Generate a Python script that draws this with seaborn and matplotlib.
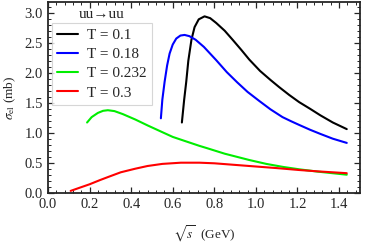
import seaborn as sns
import pandas as pd
import matplotlib.pyplot as plt
from matplotlib.ticker import MultipleLocator

# T = 0.1
x_t01 = [0.644, 0.655, 0.665, 0.675, 0.69, 0.705, 0.725, 0.753, 0.78, 0.809, 0.85, 0.888,
         0.93, 0.968, 1.02, 1.07, 1.112, 1.16, 1.208, 1.26, 1.31, 1.37, 1.437]
y_t01 = [1.17, 1.55, 1.85, 2.20, 2.55, 2.76, 2.89, 2.94, 2.91, 2.83, 2.70, 2.55,
         2.38, 2.22, 2.03, 1.88, 1.76, 1.63, 1.51, 1.40, 1.29, 1.17, 1.06]

# T = 0.18
x_t018 = [0.543, 0.55, 0.561, 0.573, 0.585, 0.60, 0.617, 0.637, 0.657, 0.68, 0.71, 0.75,
          0.809, 0.86, 0.91, 0.96, 1.016, 1.07, 1.128, 1.17, 1.208, 1.26, 1.31, 1.37, 1.437]
y_t018 = [1.24, 1.55, 1.85, 2.12, 2.32, 2.47, 2.57, 2.62, 2.63, 2.61, 2.55, 2.43,
          2.21, 2.01, 1.84, 1.68, 1.53, 1.39, 1.26, 1.19, 1.13, 1.05, 0.98, 0.90, 0.83]

# T = 0.232
x_t0232 = [0.188, 0.21, 0.24, 0.265, 0.288, 0.32, 0.36, 0.42, 0.48, 0.543, 0.60, 0.66,
           0.729, 0.767, 0.85, 0.968, 1.05, 1.13, 1.208, 1.30, 1.437]
y_t0232 = [1.17, 1.26, 1.33, 1.365, 1.375, 1.36, 1.31, 1.22, 1.12, 1.02, 0.93, 0.86,
           0.78, 0.74, 0.65, 0.545, 0.48, 0.43, 0.39, 0.35, 0.30]

# T = 0.3
x_t03 = [0.109, 0.15, 0.20, 0.25, 0.288, 0.35, 0.42, 0.479, 0.55, 0.639, 0.729, 0.80,
         0.968, 1.10, 1.208, 1.30, 1.437]
y_t03 = [0.03, 0.08, 0.14, 0.21, 0.26, 0.34, 0.40, 0.445, 0.48, 0.50, 0.50, 0.49,
         0.445, 0.41, 0.378, 0.355, 0.325]

labels = ['T = 0.1', 'T = 0.18', 'T = 0.232', 'T = 0.3']
colors = ['black', '#0000ff', '#00ee00', '#ff0000']

frames = []
for lab, xs, ys in zip(labels, [x_t01, x_t018, x_t0232, x_t03], [y_t01, y_t018, y_t0232, y_t03]):
    frames.append(pd.DataFrame({'x': xs, 'y': ys, 'T': lab}))
df = pd.concat(frames, ignore_index=True)

sns.set_style("ticks")
plt.rcParams['font.family'] = ['Liberation Serif', 'DejaVu Serif']
plt.rcParams['mathtext.fontset'] = 'stix'

fig = plt.figure(figsize=(3.92, 2.44), dpi=100)
ax = fig.add_axes([0.1224, 0.2103, 0.7956, 0.7817])

sns.lineplot(data=df, x='x', y='y', hue='T', palette=colors, sort=False,
             estimator=None, linewidth=1.5, ax=ax)

ax.set_xlim(0, 1.5)
ax.set_ylim(0, 3.18)
ax.xaxis.set_major_locator(MultipleLocator(0.2))
ax.xaxis.set_minor_locator(MultipleLocator(0.04))
ax.yaxis.set_major_locator(MultipleLocator(0.5))
ax.yaxis.set_minor_locator(MultipleLocator(0.1))
ax.tick_params(which='both', direction='in', top=True, right=True, labelsize=10.5)
ax.tick_params(which='major', length=4, width=0.9)
ax.tick_params(which='minor', length=2, width=0.7)
for s in ax.spines.values():
    s.set_linewidth(1.3)

ax.set_xlabel(r'$\sqrt{s}$  (GeV)', fontsize=9.5, labelpad=9)
ax.set_ylabel(r'$\sigma_{\rm el}$ (mb)', fontsize=9.5, labelpad=5)

leg = ax.legend(loc='upper left', bbox_to_anchor=(0.013, 0.89), fontsize=11,
                handlelength=1.35, handletextpad=0.6, borderpad=0.35, borderaxespad=0,
                labelspacing=0.36, frameon=True, fancybox=False)
leg.get_frame().set_edgecolor('#cccccc')
leg.get_frame().set_linewidth(0.8)
ax.text(0.099, 0.932, 'uu\u2192uu', transform=ax.transAxes, fontsize=11, va='center')

plt.savefig('out.png', dpi=100)
